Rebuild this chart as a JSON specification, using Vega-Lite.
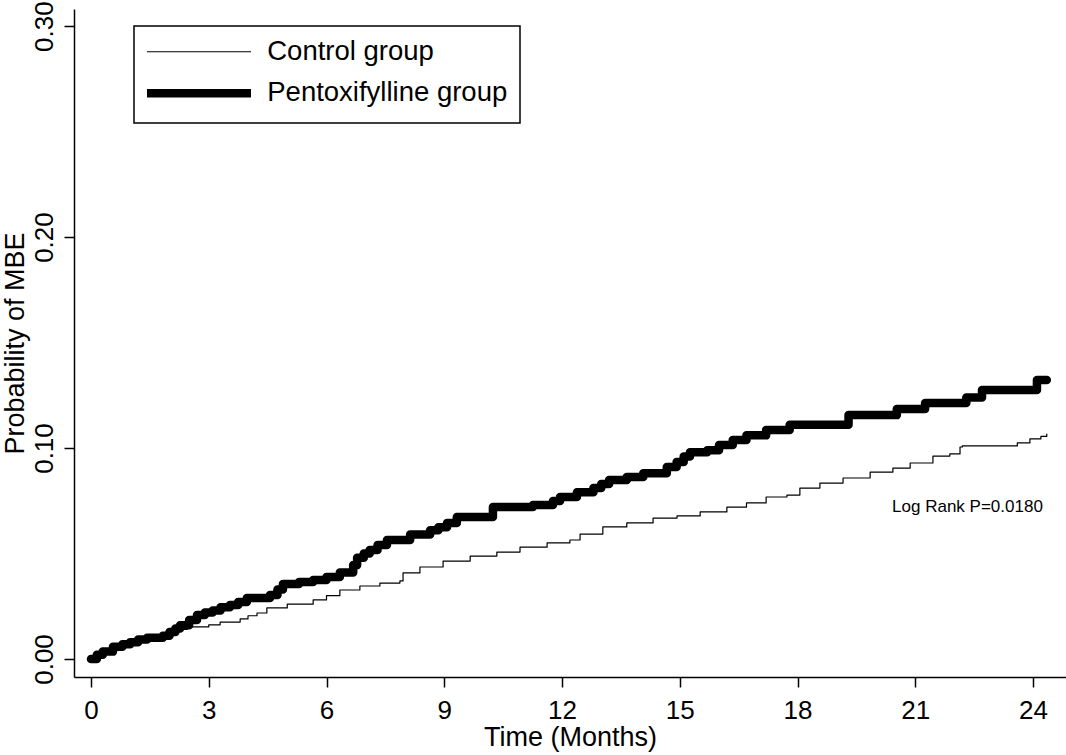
{
  "$schema": "https://vega.github.io/schema/vega-lite/v6.json",
  "width": 992,
  "height": 668,
  "autosize": {"type": "none"},
  "padding": {"left": 74, "top": 9, "right": 0, "bottom": 78},
  "background": "white",
  "config": {
    "view": {"stroke": null},
    "font": "Liberation Sans",
    "axis": {
      "domainColor": "black", "domainWidth": 1.5, "tickColor": "black", "tickWidth": 1.5, "tickSize": 10,
      "labelColor": "black", "titleColor": "black", "labelFont": "Liberation Sans", "titleFont": "Liberation Sans",
      "labelFontSize": 26, "titleFontSize": 27, "titleFontWeight": "normal", "grid": false
    },
    "legend": {
      "orient": "none", "legendX": 60, "legendY": 17, "direction": "vertical", "padding": 12,
      "strokeColor": "black", "strokeWidth": 1.5,
      "symbolType": "M-1,0H12", "symbolSize": 256, "symbolOffset": -4.75,
      "symbolStrokeColor": "black", "symbolFillColor": "transparent",
      "labelOffset": 98.5, "rowPadding": 9.5, "labelFontSize": 27.5, "labelFont": "Liberation Sans",
      "labelColor": "black", "labelLimit": 400
    }
  },
  "datasets": {
    "km": [
      {"group": "Pentoxifylline group", "month": 0, "p": 0},
      {"group": "Pentoxifylline group", "month": 0.15, "p": 0.002},
      {"group": "Pentoxifylline group", "month": 0.3, "p": 0.0035},
      {"group": "Pentoxifylline group", "month": 0.56, "p": 0.0058},
      {"group": "Pentoxifylline group", "month": 0.8, "p": 0.007},
      {"group": "Pentoxifylline group", "month": 1.0, "p": 0.008},
      {"group": "Pentoxifylline group", "month": 1.2, "p": 0.0092},
      {"group": "Pentoxifylline group", "month": 1.43, "p": 0.0101},
      {"group": "Pentoxifylline group", "month": 1.83, "p": 0.011},
      {"group": "Pentoxifylline group", "month": 2.0, "p": 0.0128},
      {"group": "Pentoxifylline group", "month": 2.15, "p": 0.0145},
      {"group": "Pentoxifylline group", "month": 2.27, "p": 0.016},
      {"group": "Pentoxifylline group", "month": 2.5, "p": 0.0185},
      {"group": "Pentoxifylline group", "month": 2.7, "p": 0.0209},
      {"group": "Pentoxifylline group", "month": 2.9, "p": 0.022},
      {"group": "Pentoxifylline group", "month": 3.1, "p": 0.023},
      {"group": "Pentoxifylline group", "month": 3.3, "p": 0.0245},
      {"group": "Pentoxifylline group", "month": 3.54, "p": 0.0256},
      {"group": "Pentoxifylline group", "month": 3.75, "p": 0.027},
      {"group": "Pentoxifylline group", "month": 3.97, "p": 0.0289},
      {"group": "Pentoxifylline group", "month": 4.56, "p": 0.0303},
      {"group": "Pentoxifylline group", "month": 4.75, "p": 0.033},
      {"group": "Pentoxifylline group", "month": 4.89, "p": 0.0355},
      {"group": "Pentoxifylline group", "month": 5.3, "p": 0.0365},
      {"group": "Pentoxifylline group", "month": 5.66, "p": 0.0374},
      {"group": "Pentoxifylline group", "month": 6.0, "p": 0.0389},
      {"group": "Pentoxifylline group", "month": 6.34, "p": 0.041},
      {"group": "Pentoxifylline group", "month": 6.68, "p": 0.0445},
      {"group": "Pentoxifylline group", "month": 6.78, "p": 0.048},
      {"group": "Pentoxifylline group", "month": 6.95, "p": 0.05},
      {"group": "Pentoxifylline group", "month": 7.1, "p": 0.0517},
      {"group": "Pentoxifylline group", "month": 7.3, "p": 0.054},
      {"group": "Pentoxifylline group", "month": 7.54, "p": 0.0564},
      {"group": "Pentoxifylline group", "month": 8.13, "p": 0.059},
      {"group": "Pentoxifylline group", "month": 8.64, "p": 0.061},
      {"group": "Pentoxifylline group", "month": 8.85, "p": 0.0625},
      {"group": "Pentoxifylline group", "month": 9.07, "p": 0.0645},
      {"group": "Pentoxifylline group", "month": 9.32, "p": 0.0673},
      {"group": "Pentoxifylline group", "month": 10.24, "p": 0.072},
      {"group": "Pentoxifylline group", "month": 11.26, "p": 0.073},
      {"group": "Pentoxifylline group", "month": 11.77, "p": 0.0749},
      {"group": "Pentoxifylline group", "month": 11.95, "p": 0.0768},
      {"group": "Pentoxifylline group", "month": 12.38, "p": 0.079},
      {"group": "Pentoxifylline group", "month": 12.8, "p": 0.081},
      {"group": "Pentoxifylline group", "month": 13.0, "p": 0.083},
      {"group": "Pentoxifylline group", "month": 13.2, "p": 0.0848},
      {"group": "Pentoxifylline group", "month": 13.65, "p": 0.0863},
      {"group": "Pentoxifylline group", "month": 14.07, "p": 0.088},
      {"group": "Pentoxifylline group", "month": 14.67, "p": 0.091},
      {"group": "Pentoxifylline group", "month": 14.92, "p": 0.0934},
      {"group": "Pentoxifylline group", "month": 15.1, "p": 0.096},
      {"group": "Pentoxifylline group", "month": 15.26, "p": 0.098},
      {"group": "Pentoxifylline group", "month": 15.7, "p": 0.099},
      {"group": "Pentoxifylline group", "month": 16.0, "p": 0.1014},
      {"group": "Pentoxifylline group", "month": 16.35, "p": 0.1038},
      {"group": "Pentoxifylline group", "month": 16.7, "p": 0.106},
      {"group": "Pentoxifylline group", "month": 17.2, "p": 0.1085},
      {"group": "Pentoxifylline group", "month": 17.8, "p": 0.111},
      {"group": "Pentoxifylline group", "month": 19.3, "p": 0.1156},
      {"group": "Pentoxifylline group", "month": 20.53, "p": 0.1185},
      {"group": "Pentoxifylline group", "month": 21.25, "p": 0.1213},
      {"group": "Pentoxifylline group", "month": 22.3, "p": 0.124},
      {"group": "Pentoxifylline group", "month": 22.7, "p": 0.1275},
      {"group": "Pentoxifylline group", "month": 24.1, "p": 0.1322},
      {"group": "Pentoxifylline group", "month": 24.35, "p": 0.1322},
      {"group": "Control group", "month": 0, "p": 0},
      {"group": "Control group", "month": 0.15, "p": 0.002},
      {"group": "Control group", "month": 0.3, "p": 0.0035},
      {"group": "Control group", "month": 0.56, "p": 0.0058},
      {"group": "Control group", "month": 0.8, "p": 0.007},
      {"group": "Control group", "month": 1.0, "p": 0.008},
      {"group": "Control group", "month": 1.2, "p": 0.0092},
      {"group": "Control group", "month": 1.43, "p": 0.0101},
      {"group": "Control group", "month": 1.83, "p": 0.011},
      {"group": "Control group", "month": 2.0, "p": 0.0125},
      {"group": "Control group", "month": 2.2, "p": 0.014},
      {"group": "Control group", "month": 2.45, "p": 0.0152},
      {"group": "Control group", "month": 3.0, "p": 0.0162},
      {"group": "Control group", "month": 3.29, "p": 0.0175},
      {"group": "Control group", "month": 3.8, "p": 0.019},
      {"group": "Control group", "month": 4.0, "p": 0.0205},
      {"group": "Control group", "month": 4.23, "p": 0.0218},
      {"group": "Control group", "month": 4.48, "p": 0.0242},
      {"group": "Control group", "month": 5.0, "p": 0.026},
      {"group": "Control group", "month": 5.66, "p": 0.028},
      {"group": "Control group", "month": 6.0, "p": 0.03},
      {"group": "Control group", "month": 6.34, "p": 0.0327},
      {"group": "Control group", "month": 6.85, "p": 0.0346},
      {"group": "Control group", "month": 7.36, "p": 0.036},
      {"group": "Control group", "month": 7.87, "p": 0.037},
      {"group": "Control group", "month": 7.95, "p": 0.0408},
      {"group": "Control group", "month": 8.38, "p": 0.0436},
      {"group": "Control group", "month": 8.97, "p": 0.0464},
      {"group": "Control group", "month": 9.66, "p": 0.0488},
      {"group": "Control group", "month": 10.34, "p": 0.0507},
      {"group": "Control group", "month": 10.93, "p": 0.053},
      {"group": "Control group", "month": 11.62, "p": 0.055},
      {"group": "Control group", "month": 12.2, "p": 0.0564},
      {"group": "Control group", "month": 12.46, "p": 0.0592},
      {"group": "Control group", "month": 13.04, "p": 0.0626},
      {"group": "Control group", "month": 13.65, "p": 0.0645},
      {"group": "Control group", "month": 14.32, "p": 0.0668},
      {"group": "Control group", "month": 14.93, "p": 0.0678},
      {"group": "Control group", "month": 15.52, "p": 0.0697},
      {"group": "Control group", "month": 16.2, "p": 0.072},
      {"group": "Control group", "month": 16.7, "p": 0.074},
      {"group": "Control group", "month": 17.2, "p": 0.0768},
      {"group": "Control group", "month": 17.73, "p": 0.0777},
      {"group": "Control group", "month": 18.06, "p": 0.081},
      {"group": "Control group", "month": 18.57, "p": 0.0834},
      {"group": "Control group", "month": 19.16, "p": 0.0858},
      {"group": "Control group", "month": 19.85, "p": 0.0886},
      {"group": "Control group", "month": 20.43, "p": 0.0905},
      {"group": "Control group", "month": 20.87, "p": 0.0929},
      {"group": "Control group", "month": 21.45, "p": 0.0962},
      {"group": "Control group", "month": 21.88, "p": 0.0972},
      {"group": "Control group", "month": 22.14, "p": 0.1005},
      {"group": "Control group", "month": 22.2, "p": 0.101},
      {"group": "Control group", "month": 23.6, "p": 0.1024},
      {"group": "Control group", "month": 23.92, "p": 0.1043},
      {"group": "Control group", "month": 24.2, "p": 0.1055},
      {"group": "Control group", "month": 24.35, "p": 0.1066}
    ],
    "note": [
      {"label": "Log Rank P=0.0180"}
    ]
  },
  "layer": [
    {
      "data": {"name": "km"},
      "mark": {"type": "line", "interpolate": "step-after", "color": "black", "strokeCap": "round", "strokeJoin": "round", "clip": true},
      "encoding": {
        "x": {
          "field": "month", "type": "quantitative",
          "scale": {"domain": [-0.4331, 24.84], "nice": false, "zero": false},
          "axis": {"values": [0, 3, 6, 9, 12, 15, 18, 21, 24], "title": "Time (Months)", "labelPadding": 10, "titlePadding": 1, "labelFlush": false}
        },
        "y": {
          "field": "p", "type": "quantitative",
          "scale": {"domain": [-0.00853, 0.3081], "nice": false, "zero": false},
          "axis": {"values": [0, 0.1, 0.2, 0.3], "format": ".2f", "title": "Probability of MBE",
                   "labelAngle": 270, "labelAlign": "center", "labelBaseline": "alphabetic", "labelPadding": 11.5, "titlePadding": 2, "labelFlush": false}
        },
        "strokeWidth": {
          "field": "group", "type": "ordinal",
          "scale": {"domain": ["Control group", "Pentoxifylline group"], "range": [1.2, 8.5]},
          "legend": {"title": null}
        },
        "detail": {"field": "group"}
      }
    },
    {
      "data": {"name": "note"},
      "mark": {"type": "text", "align": "right", "baseline": "alphabetic", "fontSize": 17, "font": "Liberation Sans", "color": "black"},
      "encoding": {
        "x": {"datum": 24.25, "type": "quantitative"},
        "y": {"datum": 0.0697, "type": "quantitative"},
        "text": {"field": "label", "type": "nominal"}
      }
    }
  ]
}
